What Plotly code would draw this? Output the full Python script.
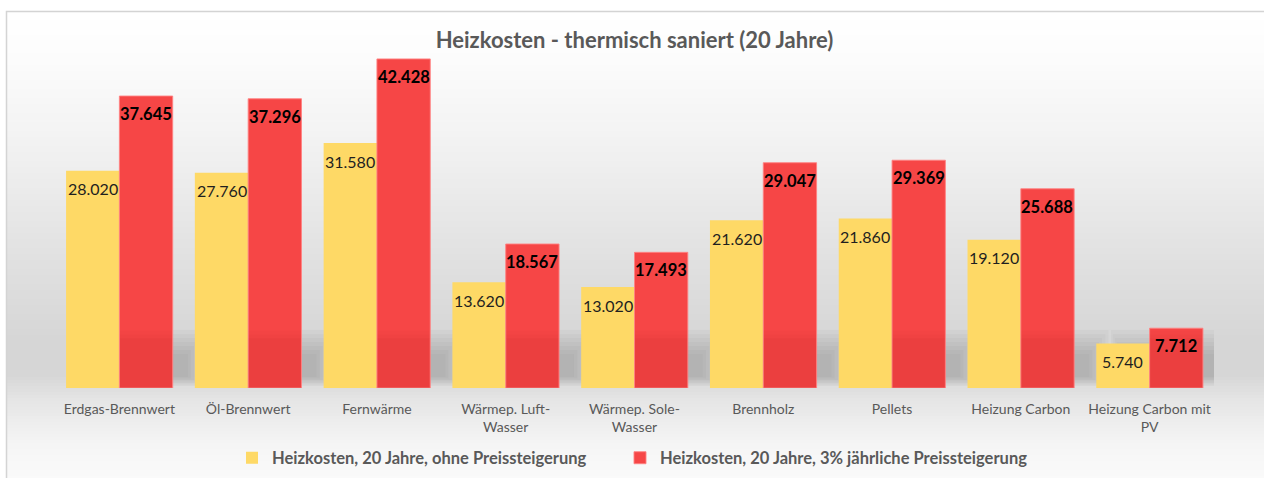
import plotly.graph_objects as go

# ---------------- data ----------------
categories = ["Erdgas-Brennwert", "Öl-Brennwert", "Fernwärme", "Wärmep. Luft-Wasser",
              "Wärmep. Sole-Wasser", "Brennholz", "Pellets", "Heizung Carbon",
              "Heizung Carbon mit PV"]
tick_labels = ["Erdgas-Brennwert", "Öl-Brennwert", "Fernwärme", "Wärmep. Luft-<br>Wasser",
               "Wärmep. Sole-<br>Wasser", "Brennholz", "Pellets", "Heizung Carbon",
               "Heizung Carbon mit<br>PV"]
series_names = ["Heizkosten, 20 Jahre, ohne Preissteigerung",
                "Heizkosten, 20 Jahre, 3% jährliche Preissteigerung"]
costs_flat = [28020, 27760, 31580, 13620, 13020, 21620, 21860, 19120, 5740]
costs_rising = [37645, 37296, 42428, 18567, 17493, 29047, 29369, 25688, 7712]
title_text = "Heizkosten - thermisch saniert (20 Jahre)"

# ---------------- layout constants ----------------
W, H = 1264, 478
ML, MR, MT, MB = 55, 50, 39, 90
PW, PH = W - ML - MR, H - MT - MB
YMAX = 45000
BARGAP = 0.172
BW = (1 - BARGAP) / 2
FONT = "Lato, 'Open Sans', sans-serif"
YELLOW = "#FED966"
RED = "#F64646"
GREY = "#595959"


def px_x(px):
    return (px - ML) / PW


def px_y(py):
    return (H - MB - py) / PH


def lerp_grey(py, stops):
    for (a, ca), (b, cb) in zip(stops, stops[1:]):
        if a <= py <= b:
            t = (py - a) / (b - a)
            return ca + (cb - ca) * t
    return stops[-1][1]


x_idx = list(range(len(categories)))

fig = go.Figure()
fig.add_trace(go.Bar(x=x_idx, y=costs_flat, name=series_names[0], legend="legend",
                     marker=dict(color=YELLOW, line=dict(width=0)),
                     hovertext=categories))
fig.add_trace(go.Bar(x=x_idx, y=costs_rising, name=series_names[1], legend="legend2",
                     marker=dict(color=RED, line=dict(color="rgba(255,130,130,0.9)", width=1)),
                     hovertext=categories))

shapes = []
# background gradient
stops = [(11, 255), (60, 252), (150, 241), (250, 226), (340, 214), (375, 214),
         (388, 222), (400, 229), (440, 244), (478, 250)]
step = 3
py = 11
while py < H:
    g = int(round(lerp_grey(py + step / 2, stops)))
    shapes.append(dict(type="rect", xref="paper", yref="paper", layer="below",
                       x0=px_x(6), x1=px_x(W + 5), y0=px_y(py + step + 0.5), y1=px_y(py),
                       fillcolor=f"rgb({g},{g},{g})", line=dict(width=0)))
    py += step
# chart border
shapes.append(dict(type="rect", xref="paper", yref="paper", layer="below",
                   x0=px_x(6.5), x1=px_x(W + 10), y0=px_y(H + 10), y1=px_y(11.5),
                   fillcolor="rgba(0,0,0,0)", line=dict(color="#d4d4d4", width=1.5)))

# soft shadows behind bar groups
for i in x_idx:
    for k in range(7):
        shapes.append(dict(type="rect", xref="x", yref="paper", layer="below",
                           x0=i - 0.30 + 0.015 * k, x1=i + 0.68 - 0.025 * k,
                           y0=px_y(386 - 1.5 * k), y1=px_y(330 + 4 * k),
                           fillcolor="rgba(90,90,90,0.045)", line=dict(width=0)))
# darker lower part of red bars
for i in x_idx:
    for lim, a in ((7400, 0.02), (6900, 0.02), (6400, 0.03)):
        shapes.append(dict(type="rect", xref="x", yref="y", layer="above",
                           x0=i + 0.004, x1=i + BW - 0.004, y0=0, y1=min(costs_rising[i], lim),
                           fillcolor=f"rgba(90,0,0,{a})", line=dict(width=0)))

annotations = []
for i in x_idx:
    annotations.append(dict(x=i - BW / 2, y=costs_flat[i], xref="x", yref="y",
                            text=f"{costs_flat[i]:,}".replace(",", "."), showarrow=False,
                            yanchor="middle", yshift=-18,
                            font=dict(family=FONT, size=16, color="#1f1f1f")))
    annotations.append(dict(x=i + BW / 2, y=costs_rising[i], xref="x", yref="y",
                            text=f"{costs_rising[i]:,}".replace(",", "."), showarrow=False,
                            yanchor="middle", yshift=-18,
                            font=dict(family=FONT, size=16.5, color="#000000", weight="bold")))

legend_font = dict(family=FONT, size=16.5, color=GREY, weight="bold")
fig.update_layout(
    width=W, height=H,
    margin=dict(l=ML, r=MR, t=MT, b=MB, autoexpand=False),
    paper_bgcolor="white", plot_bgcolor="rgba(0,0,0,0)",
    barmode="group", bargap=BARGAP, bargroupgap=0,
    separators=",.",
    title=dict(text=title_text, x=0.5, xanchor="center", xref="paper",
               y=1 - 40 / H, yref="container", yanchor="middle",
               font=dict(family=FONT, size=22, color=GREY, weight="bold")),
    xaxis=dict(range=[-0.5, len(categories) - 0.5], tickvals=x_idx, ticktext=tick_labels,
               showgrid=False, zeroline=False, showline=False, ticks="",
               ticklabelstandoff=11,
               tickfont=dict(family=FONT, size=14, color=GREY)),
    yaxis=dict(range=[0, YMAX], visible=False, showgrid=False, zeroline=False),
    legend=dict(orientation="h", x=px_x(232), xanchor="left", y=px_y(458), yanchor="middle",
                bgcolor="rgba(0,0,0,0)", font=legend_font),
    legend2=dict(orientation="h", x=px_x(620), xanchor="left", y=px_y(458), yanchor="middle",
                 bgcolor="rgba(0,0,0,0)", font=legend_font),
    shapes=shapes, annotations=annotations,
    showlegend=True,
)

fig.write_html("out.html", config={"displayModeBar": False},
               post_script="document.body.style.margin='0';document.body.style.padding='0';")
